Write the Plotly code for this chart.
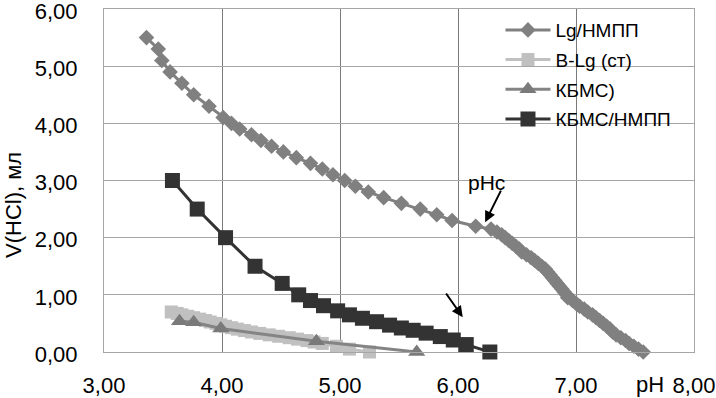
import plotly.graph_objects as go

# Lg/НМПП
ph_lg = [3.36, 3.46, 3.49, 3.56, 3.66, 3.76, 3.89, 4.01, 4.08, 4.15, 4.25, 4.33, 4.42, 4.52,
         4.63, 4.75, 4.85, 4.94, 5.04, 5.13, 5.24, 5.37, 5.52, 5.68, 5.82, 5.95, 6.15, 6.28,
         6.33, 6.37, 6.40, 6.43, 6.46, 6.49, 6.52, 6.54, 6.58, 6.62, 6.65, 6.68, 6.71, 6.74,
         6.76, 6.78, 6.80, 6.82, 6.84, 6.86, 6.88, 6.90, 6.92, 6.93, 6.97, 7.00, 7.03, 7.07,
         7.10, 7.14, 7.17, 7.20, 7.23, 7.26, 7.29, 7.31, 7.34, 7.38, 7.42, 7.45, 7.49, 7.53,
         7.57, 7.62]
v_lg = [5.5, 5.3, 5.1, 4.9, 4.7, 4.5, 4.3, 4.1, 4.0, 3.9, 3.8, 3.7, 3.6, 3.5,
        3.4, 3.3, 3.2, 3.1, 3.0, 2.9, 2.8, 2.7, 2.6, 2.5, 2.4, 2.3, 2.2, 2.15,
        2.1, 2.05, 2.0, 1.95, 1.9, 1.85, 1.8, 1.75, 1.7, 1.65, 1.6, 1.55, 1.5, 1.45,
        1.4, 1.35, 1.3, 1.25, 1.2, 1.15, 1.1, 1.05, 1.0, 0.95, 0.9, 0.85, 0.8, 0.75,
        0.7, 0.65, 0.6, 0.55, 0.5, 0.45, 0.4, 0.35, 0.3, 0.25, 0.2, 0.15, 0.1, 0.05,
        0.0]

# B-Lg (ст)
ph_blg = [3.57, 3.62, 3.66, 3.71, 3.76, 3.81, 3.86, 3.90, 3.95, 3.99, 4.03, 4.08, 4.13, 4.19,
          4.25, 4.32, 4.40, 4.48, 4.57, 4.64, 4.72, 4.78, 4.85, 4.97, 5.08, 5.25]
v_blg = [0.70, 0.675, 0.65, 0.625, 0.60, 0.575, 0.55, 0.525, 0.50, 0.475, 0.45, 0.425, 0.40, 0.375,
         0.35, 0.325, 0.30, 0.275, 0.25, 0.225, 0.20, 0.175, 0.15, 0.10, 0.05, 0.00]

# КБМС)
ph_kbms = [3.64, 3.76, 3.99, 4.80, 5.65]
v_kbms = [0.54, 0.52, 0.41, 0.19, 0.00]

# КБМС/НМПП
ph_kn = [3.58, 3.79, 4.03, 4.28, 4.51, 4.65, 4.75, 4.86, 4.98, 5.08, 5.19, 5.31, 5.42, 5.52,
         5.62, 5.73, 5.85, 5.96, 6.07, 6.27]
v_kn = [3.00, 2.50, 2.00, 1.50, 1.20, 1.00, 0.90, 0.81, 0.72, 0.65, 0.59, 0.53, 0.47, 0.42,
        0.38, 0.33, 0.27, 0.21, 0.13, 0.00]

names = ["Lg/НМПП", "B-Lg (ст)", "КБМС)", "КБМС/НМПП"]
x_ticks = [3, 4, 5, 6, 7, 8]
y_ticks = [0, 1, 2, 3, 4, 5, 6]

FONT = "Liberation Sans, Arial, sans-serif"

fig = go.Figure()
fig.add_trace(go.Scatter(x=ph_lg, y=v_lg, name=names[0], mode="lines+markers", legendgroup="a",
                         line=dict(color="#808080", width=3),
                         marker=dict(symbol="diamond", size=12, color="#808080"), cliponaxis=False))
fig.add_trace(go.Scatter(x=ph_blg, y=v_blg, name=names[1], mode="lines+markers", legendgroup="b",
                         line=dict(color="#c0c0c0", width=3),
                         marker=dict(symbol="square", size=13, color="#c0c0c0"), cliponaxis=False))
fig.add_trace(go.Scatter(x=ph_kbms, y=v_kbms, name=names[2], mode="lines+markers", legendgroup="c",
                         line=dict(color="#848484", width=3),
                         marker=dict(symbol="triangle-up", size=15, color="#7a7a7a"), cliponaxis=False))
fig.add_trace(go.Scatter(x=ph_kn, y=v_kn, name=names[3], mode="lines+markers", legendgroup="d",
                         line=dict(color="#333333", width=3),
                         marker=dict(symbol="square", size=15, color="#333333"), cliponaxis=False))

# white legend background
fig.add_shape(type="rect", xref="paper", yref="paper", x0=0.634, x1=0.997, y0=0.64, y1=0.998,
              fillcolor="white", line=dict(width=0), layer="between")

# annotations
fig.add_annotation(x=6.24, y=2.97, text="pHc", showarrow=False, font=dict(size=21, color="black", family=FONT))
fig.add_annotation(x=6.23, y=2.27, ax=6.37, ay=2.85, axref="x", ayref="y", text="", showarrow=True,
                   arrowhead=2, arrowsize=1.1, arrowwidth=2, arrowcolor="black")
fig.add_annotation(x=6.04, y=0.61, ax=5.89, ay=1.05, axref="x", ayref="y", text="", showarrow=True,
                   arrowhead=2, arrowsize=1.1, arrowwidth=2, arrowcolor="black")
fig.add_annotation(x=7.63, y=-0.096, xref="x", yref="paper", yanchor="middle", text="pH", showarrow=False,
                   font=dict(size=22, color="black", family=FONT))
fig.add_annotation(x=-0.178, y=0.43, xref="paper", yref="paper", text="V(HCl), мл", textangle=-90,
                   showarrow=False, font=dict(size=22, color="black", family=FONT))

fig.update_layout(
    width=716, height=398,
    margin=dict(l=104, r=22, t=9, b=46, autoexpand=False),
    paper_bgcolor="white", plot_bgcolor="white",
    separators=", ",
    font=dict(family=FONT, size=22, color="black"),
    showlegend=True,
    legend=dict(x=0.672, y=0.994, xanchor="left", yanchor="top", bgcolor="rgba(0,0,0,0)",
                font=dict(size=19, family=FONT, color="black"), tracegroupgap=2,
                itemwidth=45),
)
fig.update_xaxes(range=[3, 8], tickvals=x_ticks, tickformat=".2f", showgrid=True, gridcolor="#7a7a7a",
                 gridwidth=1, showline=True, linecolor="#a6a6a6", mirror=True, zeroline=False,
                 ticks="", ticklabelstandoff=14, ticklabeloverflow="allow", automargin=False)
fig.update_yaxes(range=[0, 6], tickvals=y_ticks, tickformat=".2f", showgrid=True, gridcolor="#a6a6a6",
                 gridwidth=1, showline=True, linecolor="#a6a6a6", mirror=True, zeroline=False,
                 ticks="", ticklabelstandoff=21, ticklabelshift=2, ticklabeloverflow="allow",
                 automargin=False)

fig.write_html("out.html", config={"displayModeBar": False},
               post_script="document.body.style.margin='0px';document.body.style.overflow='hidden';")
